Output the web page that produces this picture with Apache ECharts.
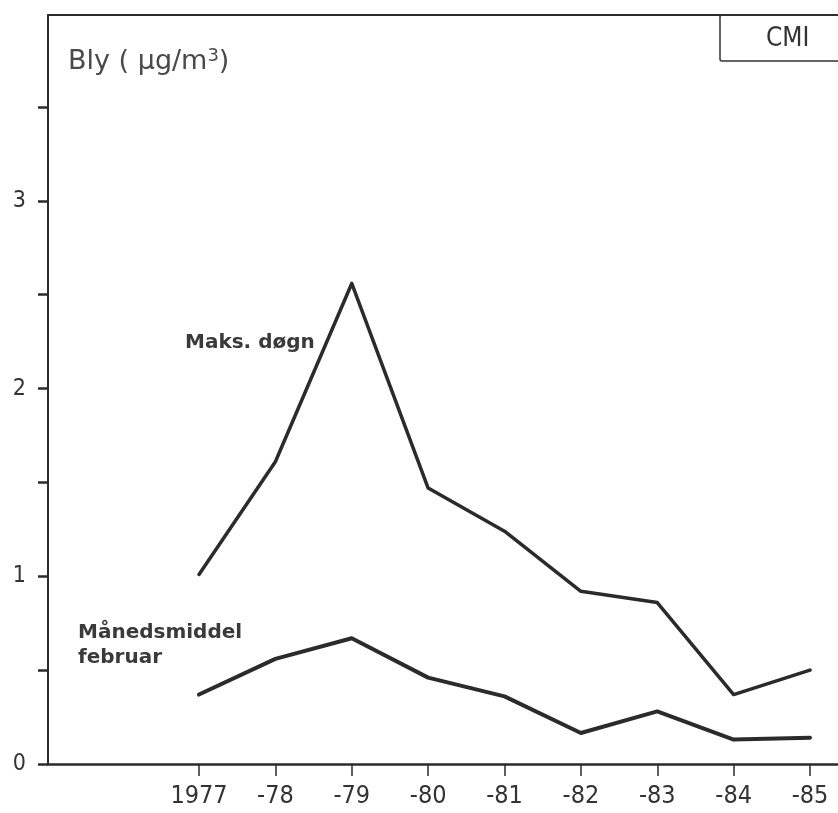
<!DOCTYPE html>
<html>
<head>
<meta charset="utf-8">
<script src="https://cdn.jsdelivr.net/npm/echarts@6/dist/echarts.min.js"></script>
<style>
html,body{margin:0;padding:0;background:#fff;}
#chart{width:838px;height:813px;}
</style>
</head>
<body>
<div id="chart"></div>
<script>
// Data
const years = ['1977', '-78', '-79', '-80', '-81', '-82', '-83', '-84', '-85'];
const maksDogn = [1.01, 1.61, 2.56, 1.47, 1.24, 0.92, 0.86, 0.37, 0.50];
const manedsmiddelFebruar = [0.37, 0.56, 0.67, 0.46, 0.36, 0.165, 0.28, 0.13, 0.14];
const yTickLabels = [0, 1, 2, 3];

const yMax = 3.99;
const ink = '#2b2b2b';
const narrow = '"Liberation Sans Narrow", "DejaVu Sans Condensed", "Liberation Sans", sans-serif';
const labelFont = '"DejaVu Sans", sans-serif';

const chart = echarts.init(document.getElementById('chart'), null, {renderer: 'canvas'});
chart.setOption({
  backgroundColor: '#fff',
  animation: false,
  title: [
    {
      text: 'Bly ( µg/m{sup|3})',
      left: 63, top: 42,
      textStyle: {
        fontFamily: labelFont, fontSize: 27, fontWeight: 'normal', color: '#4a4a4a',
        rich: { sup: { fontFamily: labelFont, fontSize: 18, color: '#4a4a4a', verticalAlign: 'top', padding: [0, 0, 12, 0] } }
      }
    },
    {
      text: 'CMI',
      left: 720, top: 15,
      padding: [11, 60, 9, 46],
      borderWidth: 1.5, borderColor: '#333', borderRadius: 2,
      textStyle: { fontFamily: narrow, fontSize: 26, fontWeight: 'normal', color: '#333' }
    },
    {
      text: 'Maks. døgn',
      left: 180, top: 328,
      textStyle: { fontFamily: labelFont, fontSize: 20, fontWeight: 'bold', color: '#3a3a3a' }
    },
    {
      text: 'Månedsmiddel\nfebruar',
      left: 73, top: 615,
      textStyle: { fontFamily: labelFont, fontSize: 20, fontWeight: 'bold', color: '#3a3a3a', lineHeight: 25 }
    }
  ],
  grid: [
    { left: 48, right: 0, top: 15, bottom: 49 },
    { left: 199, right: 28, top: 15, bottom: 49 },
    { left: 48, right: 0, top: 107, bottom: 49 }
  ],
  xAxis: [
    {
      gridIndex: 0, type: 'value', min: 0, max: 1, position: 'bottom',
      axisLine: { show: true, lineStyle: { color: ink, width: 2.5 } },
      axisTick: { show: false }, axisLabel: { show: false }, splitLine: { show: false }
    },
    {
      gridIndex: 0, type: 'value', min: 0, max: 1, position: 'top',
      axisLine: { show: true, lineStyle: { color: ink, width: 2 } },
      axisTick: { show: false }, axisLabel: { show: false }, splitLine: { show: false }
    },
    {
      gridIndex: 1, type: 'category', data: years, boundaryGap: false,
      axisLine: { show: false },
      axisTick: { show: true, interval: 0, length: 12, lineStyle: { color: ink, width: 1.5 }, alignWithLabel: true },
      axisLabel: { interval: 0, hideOverlap: false, color: '#333', fontFamily: narrow, fontSize: 25, margin: 20 },
      splitLine: { show: false }
    },
    {
      gridIndex: 2, type: 'value', min: 0, max: 1, show: false
    }
  ],
  yAxis: [
    {
      gridIndex: 0, type: 'value', min: 0, max: yMax,
      axisLine: { show: true, lineStyle: { color: ink, width: 2 } },
      axisTick: { show: false }, axisLabel: { show: false },
      splitLine: { show: false }
    },
    {
      gridIndex: 1, type: 'value', min: 0, max: yMax, show: false, splitLine: { show: false }
    },
    {
      gridIndex: 2, type: 'value', min: 0, max: 3.5, interval: 0.5,
      axisLine: { show: false },
      axisTick: { show: true, length: 10, lineStyle: { color: ink, width: 2.5 } },
      axisLabel: {
        color: '#333', fontFamily: narrow, fontSize: 23, margin: 22,
        formatter: v => (yTickLabels.indexOf(v) >= 0 ? String(v) : '')
      },
      splitLine: { show: false }
    }
  ],
  series: [
    {
      name: 'Maks. døgn', type: 'line', xAxisIndex: 2, yAxisIndex: 1,
      data: maksDogn, symbol: 'none',
      lineStyle: { color: ink, width: 3.5, join: 'round', cap: 'round' }
    },
    {
      name: 'Månedsmiddel februar', type: 'line', xAxisIndex: 2, yAxisIndex: 1,
      data: manedsmiddelFebruar, symbol: 'none',
      lineStyle: { color: ink, width: 4, join: 'round', cap: 'round' }
    }
  ]
});
</script>
</body>
</html>
